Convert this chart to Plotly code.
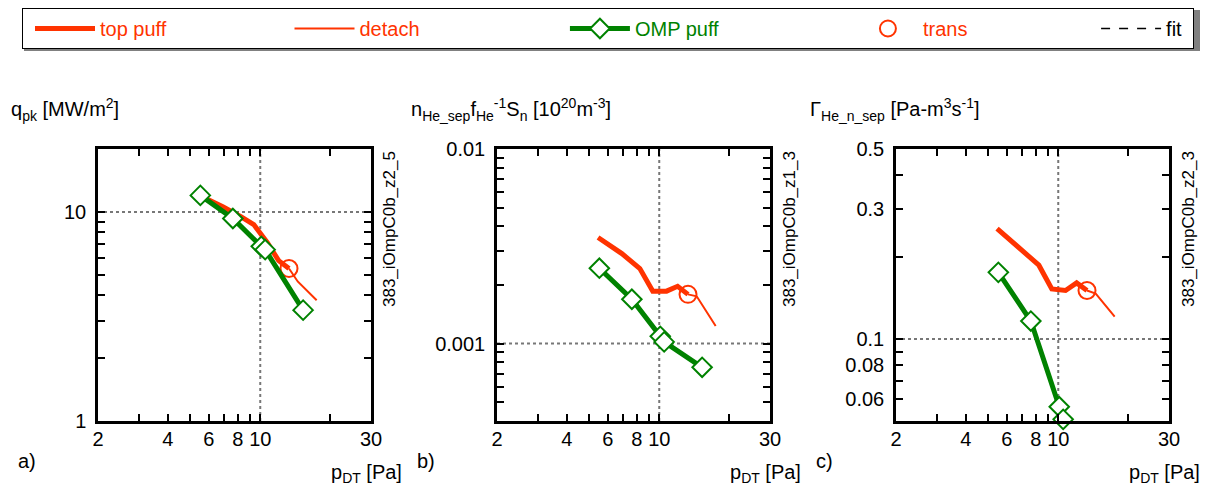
import math
import plotly.graph_objects as go

# ---------------- data ----------------
top_x = [5.45, 6.9, 8.25, 9.38, 10.75, 12.0, 13.3]
det_x = [13.3, 14.5, 17.5]
omp_x = [5.52, 7.62, 10.1, 10.5, 15.3]
trans_x = [13.3]

top_a = [12.0, 10.6, 9.5, 8.7, 7.1, 5.85, 5.36]
det_a = [5.36, 4.65, 3.78]
omp_a = [12.0, 9.3, 6.85, 6.6, 3.39]
trans_a = [5.36]

top_b = [0.00351, 0.0029, 0.00243, 0.00186, 0.00186, 0.00197, 0.00179]
det_b = [0.00179, 0.00175, 0.00123]
omp_b = [0.00244, 0.00169, 0.00109, 0.00102, 0.000755]
trans_b = [0.00179]

top_c = [0.255, 0.213, 0.187, 0.153, 0.151, 0.161, 0.151]
det_c = [0.151, 0.147, 0.121]
omp_c = [0.176, 0.1165, 0.0564, 0.0507, None]
trans_c = [0.151]

x_ticks = [2, 4, 6, 8, 10, 30]
x_minor = [3, 5, 7, 9, 20]
ya_ticks = [1, 10]
ya_labels = ["1", "10"]
ya_minor = [2, 3, 4, 5, 6, 7, 8, 9, 20]
yb_ticks = [0.001, 0.01]
yb_labels = ["0.001", "0.01"]
yb_minor = [0.0004, 0.0005, 0.0006, 0.0007, 0.0008, 0.0009,
            0.002, 0.003, 0.004, 0.005, 0.006, 0.007, 0.008, 0.009]
yc_ticks = [0.06, 0.08, 0.1, 0.3, 0.5]
yc_labels = ["0.06", "0.08", "0.1", "0.3", "0.5"]
yc_minor = [0.05, 0.07, 0.09, 0.2, 0.4]

x_range = (2, 30)
ya_range = (1, 20)
yb_range = (0.0004, 0.01)
yc_range = (0.05, 0.5)

grid_a = (10, 10)      # (x grid, y grid)
grid_b = (10, 0.001)
grid_c = (10, 0.1)

# ---------------- style ----------------
RED = "#FF3300"
GREEN = "#008200"
FONT = "Liberation Sans, Arial, sans-serif"
W, H = 1211, 493
NB = "&nbsp;"


def legend_name(label, color, pad):
    return '<span style="color:%s">%s</span>%s' % (color, label, NB * pad)


fig = go.Figure()

panels = [
    ("x", "y", top_a, det_a, omp_a, trans_a, ya_range, grid_a),
    ("x2", "y2", top_b, det_b, omp_b, trans_b, yb_range, grid_b),
    ("x3", "y3", top_c, det_c, omp_c, trans_c, yc_range, grid_c),
]

for i, (xa, ya, top, det, omp, tr, yr, gr) in enumerate(panels):
    first = i == 0
    # dotted grid lines
    fig.add_trace(go.Scatter(x=[gr[0], gr[0]], y=[yr[0], yr[1]], xaxis=xa, yaxis=ya,
                             mode="lines", line=dict(color="#777777", width=2, dash="dot"),
                             showlegend=False, hoverinfo="skip"))
    fig.add_trace(go.Scatter(x=[x_range[0], x_range[1]], y=[gr[1], gr[1]], xaxis=xa, yaxis=ya,
                             mode="lines", line=dict(color="#777777", width=2, dash="dot"),
                             showlegend=False, hoverinfo="skip"))
    fig.add_trace(go.Scatter(x=top_x, y=top, xaxis=xa, yaxis=ya, mode="lines",
                             line=dict(color=RED, width=5),
                             name=legend_name("top puff", RED, 20),
                             legendrank=1, showlegend=first))
    fig.add_trace(go.Scatter(x=det_x, y=det, xaxis=xa, yaxis=ya, mode="lines",
                             line=dict(color=RED, width=2),
                             name=legend_name("detach", RED, 24),
                             legendrank=2, showlegend=first))
    fig.add_trace(go.Scatter(x=trans_x, y=tr, xaxis=xa, yaxis=ya, mode="markers",
                             marker=dict(symbol="circle-open", size=17, color=RED,
                                         line=dict(width=2, color=RED)),
                             name=legend_name("trans", RED, 21),
                             legendrank=4, showlegend=first, cliponaxis=False))
    fig.add_trace(go.Scatter(x=omp_x, y=omp, xaxis=xa, yaxis=ya, mode="lines+markers",
                             line=dict(color=GREEN, width=5),
                             marker=dict(symbol="diamond", size=15, color="white",
                                         line=dict(width=2, color=GREEN)),
                             name=legend_name("OMP puff", GREEN, 22),
                             legendrank=3, showlegend=first, cliponaxis=False))

fig.add_trace(go.Scatter(x=[None], y=[None], mode="lines",
                         line=dict(color="black", width=1.5, dash="dash"),
                         name="fit" + NB, legendrank=5, showlegend=True))


# ---------------- axes ----------------
def px_x(a, b):
    return [a / W, b / W]


def px_y(top, bottom):
    return [1 - bottom / H, 1 - top / H]


axis_common = dict(type="log", showline=True, linecolor="black", linewidth=2.5, mirror="allticks",
                   ticks="inside", ticklen=7, tickwidth=1.5, tickcolor="black", showgrid=False,
                   zeroline=False, tickfont=dict(family=FONT, size=20, color="black"))

xdoms = [px_x(98, 371), px_x(497, 770), px_x(896, 1169)]
ydom = px_y(149, 421)
yspecs = [(ya_range, ya_ticks, ya_labels, ya_minor),
          (yb_range, yb_ticks, yb_labels, yb_minor),
          (yc_range, yc_ticks, yc_labels, yc_minor)]

for i in range(3):
    sfx = "" if i == 0 else str(i + 1)
    fig.layout["xaxis" + sfx] = dict(
        axis_common, domain=xdoms[i], anchor="y" + sfx,
        range=[math.log10(x_range[0]), math.log10(x_range[1])],
        tickvals=x_ticks, ticktext=[str(v) for v in x_ticks], ticklabelstandoff=-2,
        minor=dict(tickvals=x_minor, ticks="inside", ticklen=7, tickwidth=1.5, tickcolor="black",
                   showgrid=False))
    yr, yt, yl, ym = yspecs[i]
    fig.layout["yaxis" + sfx] = dict(
        axis_common, domain=ydom, anchor="x" + sfx,
        range=[math.log10(yr[0]), math.log10(yr[1])],
        tickvals=yt, ticktext=yl, ticklabelstandoff=5,
        minor=dict(tickvals=ym, ticks="inside", ticklen=7, tickwidth=1.5, tickcolor="black",
                   showgrid=False))

# ---------------- annotations ----------------
ann = []


def add_text(text, xpx, ypx, xanchor="left", yanchor="middle", size=20, angle=0):
    ann.append(dict(text=text, x=xpx / W, y=1 - ypx / H, xref="paper", yref="paper",
                    xanchor=xanchor, yanchor=yanchor, showarrow=False, textangle=angle,
                    font=dict(family=FONT, size=size, color="black")))


add_text("q<sub>pk</sub> [MW/m<sup>2</sup>]", 9, 110)
add_text("n<sub>He_sep</sub>f<sub>He</sub><sup>-1</sup>S<sub>n</sub> [10<sup>20</sup>m<sup>-3</sup>]", 409, 110)
add_text("Γ<sub>He_n_sep</sub> [Pa-m<sup>3</sup>s<sup>-1</sup>]", 808, 110)
for xr in (404, 803, 1202):
    add_text("p<sub>DT</sub> [Pa]", xr, 473, xanchor="right")
add_text("a)", 16, 461)
add_text("b)", 415, 461)
add_text("c)", 814, 461)
add_text("383_iOmpC0b_z2_5", 389, 149, xanchor="center", yanchor="top", angle=-90, size=17)
add_text("383_iOmpC0b_z1_3", 789, 149, xanchor="center", yanchor="top", angle=-90, size=17)
add_text("383_iOmpC0b_z2_3", 1188, 149, xanchor="center", yanchor="top", angle=-90, size=17)

fig.update_layout(
    width=W, height=H, margin=dict(l=0, r=0, t=0, b=0, autoexpand=False),
    paper_bgcolor="white", plot_bgcolor="white",
    font=dict(family=FONT, size=20, color="black"),
    annotations=ann,
    shapes=[dict(type="rect", xref="paper", yref="paper",
                 x0=24 / W, x1=1200 / W, y0=1 - 51 / H, y1=1 - 10 / H,
                 fillcolor="#808080", line=dict(width=0), layer="below")],
    legend=dict(orientation="h", x=22 / W, y=1 - 8 / H, xanchor="left", yanchor="top",
                bgcolor="white", bordercolor="black", borderwidth=1, indentation=7,
                font=dict(family=FONT, size=20, color="black"),
                itemwidth=60, traceorder="normal"),
)

fig.write_html("out.html")
